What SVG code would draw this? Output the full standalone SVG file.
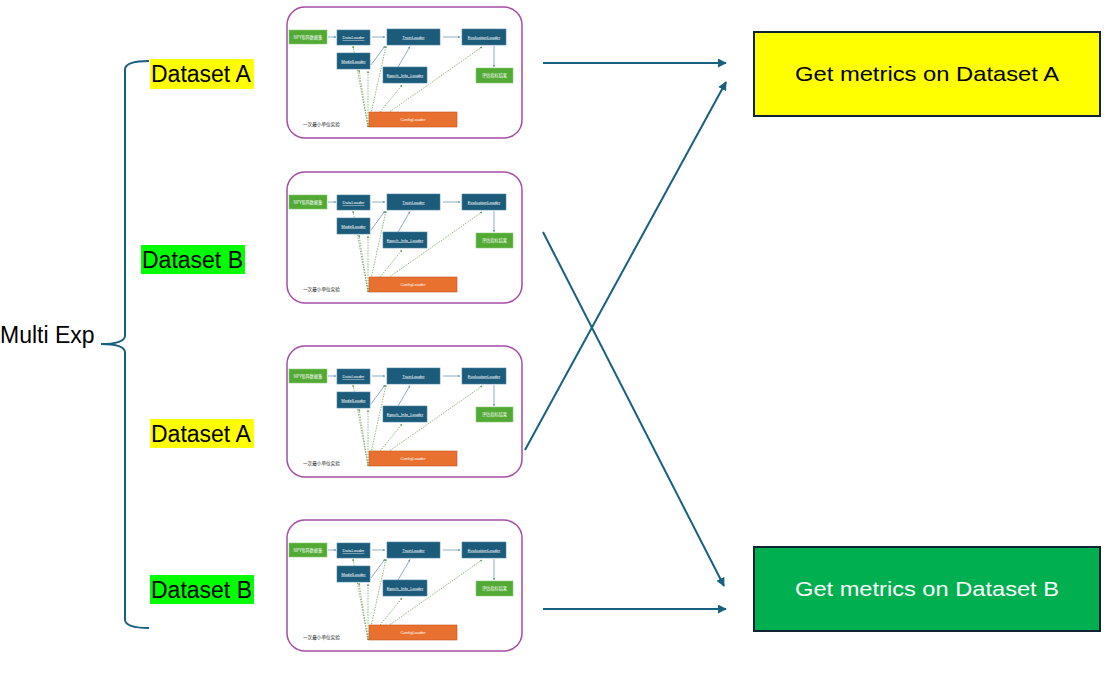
<svg xmlns="http://www.w3.org/2000/svg" xmlns:xlink="http://www.w3.org/1999/xlink" width="1115" height="693" viewBox="0 0 1115 693">
<style>
.lbl{font-family:"Liberation Sans",Arial,sans-serif;font-size:23px;fill:#000}
.big{font-family:"Liberation Sans",Arial,sans-serif;font-size:21px}
.conn{stroke:#17607f;stroke-width:2;fill:none}
.frame{fill:#fff;stroke:#a64ca6;stroke-width:1.5}
.blue{fill:#1c5b7a;stroke:#4d86a3;stroke-width:0.6}
.green{fill:#52a934;stroke:#8cc97a;stroke-width:0.6}
.orange{fill:#e8712f;stroke:#c2561d;stroke-width:0.6}
.sa{stroke:#6f9bb8;stroke-width:0.8;fill:none}
.da{stroke:#5b9b45;stroke-width:0.7;stroke-dasharray:1.5 1.2;fill:none}
</style>
<defs>
<marker id="ah" viewBox="0 0 10 10" refX="9" refY="5" markerWidth="9" markerHeight="9" markerUnits="userSpaceOnUse" orient="auto"><path d="M0,0 L10,5 L0,10 z" fill="#17607f"/></marker>
<marker id="sah" viewBox="0 0 10 10" refX="9" refY="5" markerWidth="2.5" markerHeight="2.5" markerUnits="userSpaceOnUse" orient="auto"><path d="M0,0 L10,5 L0,10 z" fill="#6f9bb8"/></marker>
<marker id="dah" viewBox="0 0 10 10" refX="9" refY="5" markerWidth="2.2" markerHeight="2.2" markerUnits="userSpaceOnUse" orient="auto"><path d="M0,0 L10,5 L0,10 z" fill="#5b9b45"/></marker>
<g id="mini">
<rect class="frame" x="0" y="0" width="235" height="131" rx="18"/>
<g>
<path class="sa" d="M41,30 L49,30" marker-end="url(#sah)"/>
<path class="sa" d="M85,30 L98,30" marker-end="url(#sah)"/>
<path class="sa" d="M156,30 L173,30" marker-end="url(#sah)"/>
<path class="sa" d="M84,58 L98,39" marker-end="url(#sah)"/>
<path class="sa" d="M111,60 L123,39.5" marker-end="url(#sah)"/>
<path class="sa" d="M207,39 L207,60" marker-end="url(#sah)"/>
<path class="da" d="M81,120 L66,39" marker-end="url(#dah)"/>
<path class="da" d="M81,120 L72,63" marker-end="url(#dah)"/>
<path class="da" d="M81,120 L81,64" marker-end="url(#dah)"/>
<path class="da" d="M81,120 L99,39" marker-end="url(#dah)"/>
<path class="da" d="M81,120 L115,78" marker-end="url(#dah)"/>
<path class="da" d="M81,120 L195,40" marker-end="url(#dah)"/>
</g>
<g font-family="Liberation Sans, Noto Sans CJK SC, sans-serif" font-size="4.2" fill="#ffffff" text-anchor="middle">
<rect class="green" x="2" y="23" width="38" height="14"/>
<text x="21" y="31.5" font-family="Noto Sans CJK SC, sans-serif">NPY矩阵数据集</text>
<rect class="blue" x="50" y="23" width="33" height="15"/>
<text x="66.5" y="32" text-decoration="underline">DataLoader</text>
<rect class="blue" x="100" y="22" width="53" height="16"/>
<text x="126.5" y="31.5" text-decoration="underline">TrainLoader</text>
<rect class="blue" x="175" y="22" width="44" height="16"/>
<text x="197" y="31.5" text-decoration="underline">EvaluationLoader</text>
<rect class="blue" x="50" y="46" width="33" height="16"/>
<text x="66.5" y="55.5" text-decoration="underline">ModelLoader</text>
<rect class="blue" x="96" y="60" width="44" height="16"/>
<text x="118" y="69.5" text-decoration="underline">Epoch_Info_Loader</text>
<rect class="green" x="189" y="61" width="37" height="15"/>
<text x="207.5" y="70" font-family="Noto Sans CJK SC, sans-serif">评估指标结果</text>
<rect class="orange" x="82" y="105" width="88" height="15"/>
<text x="126" y="114">ConfigLoader</text>
<text x="16" y="118.5" font-family="Noto Sans CJK SC, sans-serif" font-size="4.6" fill="#222222" text-anchor="start">一次最小单位实验</text>
</g>
</g>
</defs>

<g id="brace">
<path class="conn" d="M149,61 Q126,61 125,69 L125,336 Q124,344 101,344 Q124,344 125,352 L125,620 Q126,628 149,628"/>
</g>
<g id="multi-exp"><text class="lbl" x="0" y="343">Multi Exp</text></g>

<g id="label-a1"><rect x="150" y="59" width="104" height="30" fill="#ffff00"/><text class="lbl" x="151" y="82">Dataset A</text></g>
<g id="label-b1"><rect x="141" y="245" width="104" height="29" fill="#00ff00"/><text class="lbl" x="142" y="268">Dataset B</text></g>
<g id="label-a2"><rect x="150" y="419" width="104" height="29" fill="#ffff00"/><text class="lbl" x="151" y="442">Dataset A</text></g>
<g id="label-b2"><rect x="150" y="575" width="104" height="29" fill="#00ff00"/><text class="lbl" x="151" y="598">Dataset B</text></g>

<g id="exp1"><use xlink:href="#mini" href="#mini" x="287" y="7"/></g>
<g id="exp2"><use xlink:href="#mini" href="#mini" x="287" y="172"/></g>
<g id="exp3"><use xlink:href="#mini" href="#mini" x="287" y="346"/></g>
<g id="exp4"><use xlink:href="#mini" href="#mini" x="287" y="520"/></g>

<g id="connectors">
<path class="conn" d="M543,63 L726,63" marker-end="url(#ah)"/>
<path class="conn" d="M525,450 L726,82" marker-end="url(#ah)"/>
<path class="conn" d="M543,232 L724,586" marker-end="url(#ah)"/>
<path class="conn" d="M543,609 L726,609" marker-end="url(#ah)"/>
</g>

<g id="result-a">
<rect x="754" y="32" width="346" height="84" fill="#ffff00" stroke="#0f2433" stroke-width="2"/>
<text class="big" x="927" y="81" text-anchor="middle" fill="#000" textLength="264" lengthAdjust="spacingAndGlyphs">Get metrics on Dataset A</text>
</g>
<g id="result-b">
<rect x="754" y="547" width="346" height="84" fill="#00b050" stroke="#0f2433" stroke-width="2"/>
<text class="big" x="927" y="596" text-anchor="middle" fill="#fff" textLength="264" lengthAdjust="spacingAndGlyphs">Get metrics on Dataset B</text>
</g>
</svg>
